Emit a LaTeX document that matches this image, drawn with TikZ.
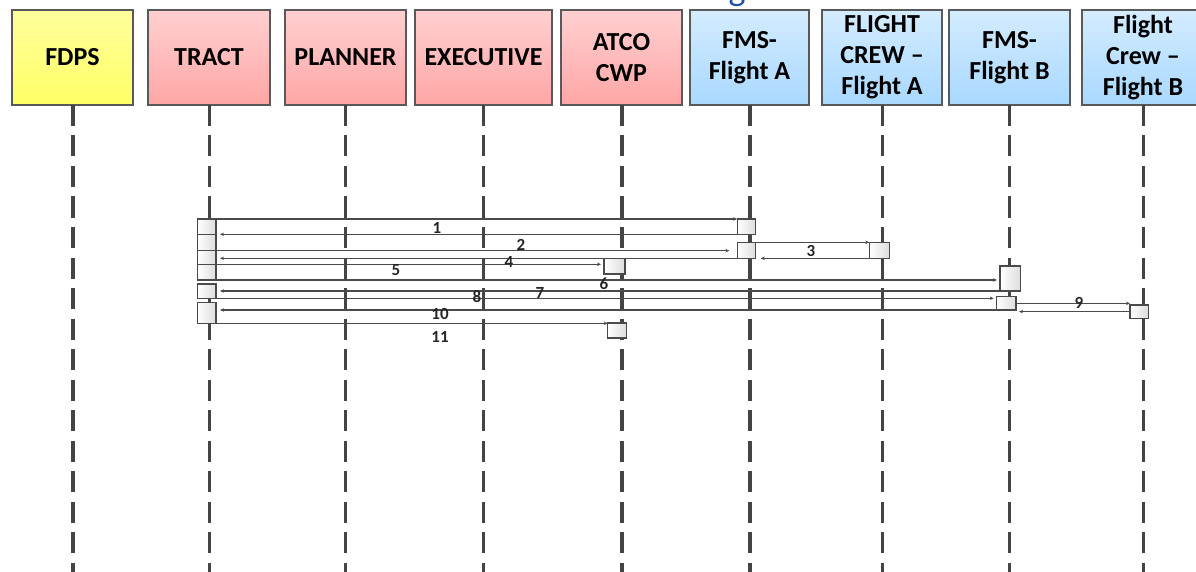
\documentclass[tikz,border=0pt]{standalone}
\usepackage{fontspec}
\setmainfont{Carlito}
\usetikzlibrary{arrows.meta}

\definecolor{boxedge}{HTML}{595959}
\definecolor{lifegray}{HTML}{444444}
\definecolor{msggray}{HTML}{4A4A4A}
\definecolor{ylwtop}{HTML}{FFFF9C}
\definecolor{ylwbot}{HTML}{FFFF66}
\definecolor{pnktop}{HTML}{FFD0D0}
\definecolor{pnkbot}{HTML}{FFA6A6}
\definecolor{blutop}{HTML}{D4ECFF}
\definecolor{blubot}{HTML}{A8D8FF}
\definecolor{actshade}{HTML}{DCDCDC}
\definecolor{titleblue}{HTML}{1F4FA8}

% activation bar: name, x1, y1, x2, y2
\newcommand{\actbar}[5]{%
  \node[actbar, minimum width={(#4-#2)*1pt}, minimum height={(#5-#3)*1pt}]
    (#1) at ({(#2+#4)/2},{(#3+#5)/2}) {};}

\begin{document}
\begin{tikzpicture}[x=1pt, y=-1pt,
  hdr/.style={draw=boxedge, line width=1.4pt, inner sep=0pt, outer sep=0pt,
    minimum height=95pt, align=center,
    font=\fontsize{26}{31}\selectfont\bfseries},
  ylw/.style={hdr, top color=ylwtop, bottom color=ylwbot},
  pnk/.style={hdr, top color=pnktop, bottom color=pnkbot},
  blu/.style={hdr, top color=blutop, bottom color=blubot},
  life/.style={draw=lifegray, line width=3pt, dash pattern=on 21pt off 9.5pt},
  heavy/.style={line width=4pt},
  actbar/.style={draw=msggray, line width=1.3pt, inner sep=0pt, outer sep=0pt,
    left color=white, right color=actshade},
  msg/.style={draw=msggray, line width=1.3pt,
    -{Stealth[length=4pt,width=3.5pt]}},
  num/.style={font=\fontsize{17}{17}\selectfont\bfseries, text=black!85,
    inner sep=0pt}
]
\useasboundingbox (0,0) rectangle (1196,572);
\coordinate (bottom) at (0,572);

% cut-off heading above the lanes
\node[text=titleblue, font=\fontsize{36}{36}\selectfont, anchor=base,
  inner sep=0pt] (heading) at (737,1) {g};

% lane headers
\node[ylw, minimum width=121pt] (fdps) at (72.5,57.5) {FDPS};
\node[pnk, minimum width=122pt] (tract) at (209,57.5) {TRACT};
\node[pnk, minimum width=121pt] (planner) at (345.5,57.5) {PLANNER};
\node[pnk, minimum width=137pt] (exec) at (483.5,57.5) {EXECUTIVE};
\node[pnk, minimum width=121pt] (atco) at (621.5,57.5) {ATCO\\CWP};
\node[blu, minimum width=119pt] (fmsa) at (749.5,57.5) {FMS-\\Flight A};
\node[blu, minimum width=120pt] (fca) at (882,57.5) {FLIGHT\\CREW --\\Flight A};
\node[blu, minimum width=121pt] (fmsb) at (1009.5,57.5) {FMS-\\Flight B};
\node[blu, minimum width=122pt] (fcb) at (1143,57.5) {Flight\\Crew --\\Flight B};

% lifelines
\draw[life, heavy] (fdps.south) -- (fdps.south |- bottom);
\draw[life] (tract.south) -- (tract.south |- bottom);
\draw[life] (planner.south) -- (planner.south |- bottom);
\draw[life] (exec.south) -- (exec.south |- bottom);
\draw[life, heavy] (atco.south) -- (atco.south |- bottom);
\draw[life, heavy] (fmsa.south) -- (fmsa.south |- bottom);
\draw[life] (fca.south) -- (fca.south |- bottom);
\draw[life] (fmsb.south) -- (fmsb.south |- bottom);
\draw[life] (fcb.south) -- (fcb.south |- bottom);

% activation bars
\actbar{t1a}{197.5}{219}{216}{234.3}
\actbar{t1b}{197.5}{234.3}{216}{250.7}
\actbar{t1c}{197.5}{250.7}{216}{264.3}
\actbar{t1d}{197.5}{264.3}{216}{280}
\actbar{t2}{197.5}{284}{216}{298.3}
\actbar{t3}{197.5}{302.7}{216}{323.3}
\actbar{a1}{737.3}{219}{755.7}{234.3}
\actbar{a2}{737.3}{242.3}{755.7}{258.3}
\actbar{c1}{604}{258.3}{625}{274}
\actbar{c2}{607.7}{323}{626.7}{338}
\actbar{f1}{869.3}{242.3}{889.3}{258.3}
\actbar{b1}{1000}{266}{1020.7}{291}
\actbar{b2}{996.7}{296.7}{1016}{310}
\actbar{g1}{1130}{305}{1148.3}{318.3}

% messages
\draw[msg] (t1a.north east) -- (t1a.north east -| a1.west);
\draw[msg, shorten >=4pt] (a1.south west) -- (a1.south west -| t1a.east);
\draw[msg, shorten >=8pt] (t1b.south east) -- (t1b.south east -| a2.west);
\draw[msg, shorten >=4pt] (a2.south west) -- (a2.south west -| t1c.east);
\draw[msg] (a2.north east) -- (f1.north west);
\draw[msg, shorten >=5pt] (f1.south west) -- (a2.south east);
\draw[msg, shorten >=3pt] (t1c.south east) -- (t1c.south east -| c1.west);
\draw[msg, shorten >=3pt] (t1d.south east) -- (t1d.south east -| b1.west);
\draw[msg, shorten >=4pt] (b1.south west) -- (b1.south west -| t2.east);
\draw[msg, shorten >=3pt] (t2.south east) -- (t2.south east -| b2.west);
\draw[msg] (b2.east) -- (b2.east -| g1.west);
\draw[msg, shorten >=3pt] (g1.west) -- (g1.west -| b2.east);
\draw[msg, shorten >=4pt] (b2.south west) -- (b2.south west -| t3.east);
\draw[msg] (t3.south east) -- (t3.south east -| c2.west);

% message numbers
\node[num] (n1) at (437,228) {1};
\node[num] (n2) at (521,245) {2};
\node[num] (n3) at (811,251) {3};
\node[num] (n4) at (509,262) {4};
\node[num] (n5) at (396,270) {5};
\node[num] (n6) at (604,284) {6};
\node[num] (n7) at (540,292.5) {7};
\node[num] (n8) at (477,297) {8};
\node[num] (n9) at (1079,303) {9};
\node[num] (n10) at (440,314) {10};
\node[num] (n11) at (440,337) {11};
\end{tikzpicture}
\end{document}
